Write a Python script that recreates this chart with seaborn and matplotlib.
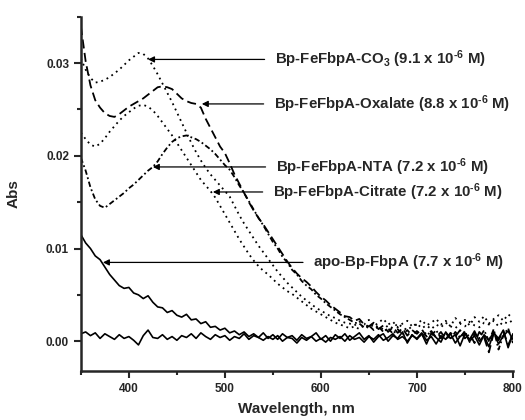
import matplotlib
matplotlib.use('Agg')
import matplotlib.pyplot as plt
import numpy as np
import pandas as pd
import seaborn as sns
from matplotlib.ticker import MultipleLocator

#=====Data (Abs x 1e-3, every 5 nm)=====
wavelength = list(range(350, 801, 5))

co3 = [30.5, 29.3, 28.4, 27.9, 28.0, 28.2, 28.5, 28.9, 29.3, 29.8,
       30.3, 30.7, 31.1, 31.0, 30.5, 29.7, 28.8, 27.8, 26.8, 25.8,
       24.7, 23.6, 22.5, 21.4, 20.4, 19.5, 18.7, 18.0, 17.4, 16.8,
       16.2, 15.6, 14.6, 13.6, 12.7, 11.9, 11.1, 10.3, 9.6, 8.9,
       8.2, 7.5, 6.9, 6.3, 5.8, 5.3, 4.8, 4.4, 4.0, 3.6,
       3.3, 3.0, 2.7, 2.5, 2.2, 2.0, 1.9, 1.7, 2.1, 1.8,
       2.3, 1.6, 2.0, 2.4, 1.8, 2.1, 1.5, 1.9, 2.2, 1.6,
       1.8, 2.3, 1.7, 2.0, 2.4, 1.8, 2.2, 1.6, 2.5, 2.0,
       2.3, 1.7, 2.6, 2.1, 2.7, 1.9, 2.4, 2.8, 2.2, 2.9, 2.5]

oxalate = [34.0, 30.2, 27.6, 26.0, 25.2, 24.6, 24.3, 24.2, 24.5, 24.9,
           25.3, 25.6, 25.9, 26.2, 26.6, 27.0, 27.4, 27.5, 27.4, 27.2,
           26.7, 26.2, 25.9, 25.7, 25.6, 25.2, 24.0, 23.0, 22.0, 21.0,
           20.3, 19.2, 18.0, 17.0, 16.0, 15.0, 14.1, 13.3, 12.6, 11.8,
           11.0, 10.2, 9.4, 8.6, 7.9, 7.3, 6.8, 6.4, 5.9, 5.3,
           4.8, 4.4, 3.9, 3.5, 3.1, 2.7, 2.6, 2.2, 2.4, 1.8,
           1.6, 2.0, 1.3, 1.7, 1.0, 1.5, 0.9, 1.4, 0.6, 1.2,
           0.8, 1.3, 0.5, 1.1, 0.4, 1.0, 0.2, 0.9, 0.5, 1.2,
           0.3, 0.8, -0.2, 1.0, 0.4, -1.2, 0.9, 0.1, 1.1, -0.4, 0.7]

nta = [19.8, 18.4, 16.6, 15.3, 14.6, 14.4, 14.8, 15.2, 15.6, 16.0,
       16.5, 16.9, 17.4, 17.9, 18.4, 18.8, 19.4, 20.2, 20.9, 21.5,
       21.9, 22.1, 22.2, 22.0, 21.8, 21.5, 21.1, 20.7, 20.2, 19.6,
       19.0, 18.5, 17.7, 16.8, 16.0, 15.1, 14.2, 13.3, 12.5, 11.6,
       10.7, 10.0, 9.1, 8.5, 7.7, 7.2, 6.5, 6.0, 5.6, 5.0,
       4.6, 4.1, 3.7, 3.3, 2.9, 2.6, 2.3, 2.0, 1.9, 1.5,
       1.7, 1.2, 1.6, 1.0, 1.4, 0.8, 1.3, 0.7, 1.2, 0.6,
       1.1, 0.4, 1.0, 0.6, 1.2, 0.3, 0.9, 0.2, 1.0, 0.4,
       1.1, -0.1, 0.8, 0.3, 1.2, 0.0, 1.3, -0.9, 0.6, 1.4, -0.2]

citrate = [22.5, 21.8, 21.2, 21.0, 21.3, 21.9, 22.6, 23.2, 23.8, 24.3,
           24.7, 25.1, 25.4, 25.5, 25.3, 24.9, 24.3, 23.6, 22.9, 22.2,
           21.4, 20.6, 19.8, 19.0, 18.2, 17.4, 16.8, 16.2, 15.5, 14.6,
           13.7, 12.8, 11.9, 11.0, 10.2, 9.4, 8.7, 8.1, 7.6, 7.2,
           6.7, 6.2, 5.8, 5.4, 5.1, 4.7, 4.3, 3.9, 3.5, 3.2,
           2.9, 2.6, 2.3, 2.0, 1.8, 1.6, 1.4, 1.6, 1.3, 1.7,
           1.4, 1.8, 1.5, 1.3, 1.7, 1.4, 1.9, 1.5, 1.2, 1.6,
           1.9, 1.4, 1.7, 1.3, 1.8, 1.5, 2.0, 1.6, 1.4, 1.9,
           1.6, 2.1, 1.7, 1.5, 2.0, 1.8, 2.2, 1.6, 2.1, 1.9, 2.3]

apo = [11.5, 10.6, 10.0, 9.2, 8.8, 8.0, 7.2, 6.6, 6.0, 5.7,
       5.8, 5.2, 5.0, 4.6, 4.9, 4.2, 3.7, 3.6, 3.1, 3.3,
       2.8, 2.6, 2.9, 2.3, 2.4, 1.9, 2.1, 1.5, 1.6, 1.2,
       1.4, 0.9, 1.1, 0.7, 1.0, 0.5, 0.8, 0.4, 0.9, 0.3,
       0.7, 0.2, 0.8, 0.4, 0.6, 0.1, 0.7, 0.3, 0.5, 0.9,
       0.2, 0.6, 0.0, 0.7, 0.3, 0.8, 0.1, 0.5, 0.9, 0.2,
       0.6, -0.1, 0.5, 0.8, 0.0, 0.6, 0.3, 1.0, -0.2, 0.7,
       0.2, 0.8, -0.3, 0.9, 0.4, -0.1, 1.0, 0.3, 0.7, -0.5,
       0.8, 0.2, 1.1, 0.0, 0.6, -0.6, 0.9, 0.3, 1.2, -0.7, 0.8]

baseline = [0.8, 1.0, 0.6, 0.9, 0.3, 0.8, 0.5, 0.2, 0.7, 0.3,
            0.5, 0.1, -0.4, 0.6, 1.2, 0.4, 0.3, 0.7, 0.2, 0.5,
            0.1, 0.6, 0.4, 0.8, 0.3, 0.9, 0.5, 0.2, 0.7, 0.4,
            0.6, 0.1, 0.5, 0.3, 0.8, 0.2, 0.6, 0.4, 0.1, 0.5,
            0.2, 0.6, 0.0, 0.4, 0.3, -0.2, 0.4, 0.1, 0.5, 0.0,
            0.3, -0.1, 0.4, 0.2, 0.5, 0.0, 0.6, 0.2, 0.4, -0.1,
            0.5, 0.2, 0.7, 0.1, 0.4, 0.8, 0.2, 0.5, 0.0, 0.6,
            0.3, 0.9, 0.1, 0.5, -0.3, 0.6, 0.2, 0.8, -0.2, 0.5,
            0.9, 0.0, 0.6, -0.4, 0.7, 0.1, 1.0, -0.3, 0.6, 1.1, 0.2]

labels = [r'Bp-FeFbpA-CO$_{3}$ (9.1 x 10$^{\text{-6}}$ M)',
          r'Bp-FeFbpA-Oxalate (8.8 x 10$^{\text{-6}}$ M)',
          r'Bp-FeFbpA-NTA (7.2 x 10$^{\text{-6}}$ M)',
          r'Bp-FeFbpA-Citrate (7.2 x 10$^{\text{-6}}$ M)',
          r'apo-Bp-FbpA (7.7 x 10$^{\text{-6}}$ M)']

#=====Style=====
sns.set_style('ticks')
plt.rcParams['font.family'] = ['Liberation Sans', 'DejaVu Sans']
plt.rcParams['font.weight'] = 'bold'
plt.rcParams['mathtext.fontset'] = 'custom'
plt.rcParams['mathtext.rm'] = 'Liberation Sans:bold'
plt.rcParams['mathtext.bf'] = 'Liberation Sans:bold'
plt.rcParams['mathtext.it'] = 'Liberation Sans:bold'

series = {'co3': co3, 'oxalate': oxalate, 'nta': nta,
          'citrate': citrate, 'apo': apo, 'baseline': baseline}
df = pd.DataFrame({'wavelength': wavelength})
for k, v in series.items():
    df[k] = np.array(v) / 1000

styles = {
    'co3': dict(ls=(0, (1, 2.2)), lw=1.3),
    'oxalate': dict(ls=(0, (5, 2.5)), lw=1.3),
    'nta': dict(ls=(0, (3, 1.5, 1, 1.5)), lw=1.3),
    'citrate': dict(ls=(0, (1, 2.2)), lw=1.3),
    'apo': dict(ls='-', lw=1.2),
    'baseline': dict(ls='-', lw=1.2),
}

fig, ax = plt.subplots(figsize=(5.25, 4.2), dpi=100)
fig.subplots_adjust(left=0.154, right=0.977, bottom=0.117, top=0.96)

for k in series:
    sns.lineplot(data=df, x='wavelength', y=k, ax=ax, color='black',
                 linestyle=styles[k]['ls'], linewidth=styles[k]['lw'])

ax.set_xlim(350, 800)
ax.set_ylim(-0.0032, 0.035)
ax.xaxis.set_major_locator(MultipleLocator(100))
ax.xaxis.set_minor_locator(MultipleLocator(50))
ax.yaxis.set_major_locator(MultipleLocator(0.01))
ax.yaxis.set_minor_locator(MultipleLocator(0.005))
ax.yaxis.set_major_formatter(plt.FuncFormatter(lambda v, p: f'{v:.2f}'))
ax.tick_params(which='major', length=5, width=1.5, labelsize=8.5, direction='out')
ax.tick_params(which='minor', length=3, width=1.5, direction='out')
for t in ax.get_xticklabels() + ax.get_yticklabels():
    t.set_fontweight('bold')
sns.despine(ax=ax)
for s in ['left', 'bottom']:
    ax.spines[s].set_linewidth(1.8)

ax.set_xlabel('Wavelength, nm', fontsize=11, fontweight='bold', labelpad=5)
ax.set_ylabel('Abs', fontsize=11, fontweight='bold', labelpad=18)

#=====Annotations=====
arrow_xy = [(420, 0.0304), (476, 0.0256), (425, 0.0188), (487.5, 0.0161), (373, 0.0085)]
text_xy = [(552, 0.0304), (551, 0.0256), (553, 0.0188), (550, 0.0161), (592, 0.0085)]
for lab, axy, txy in zip(labels, arrow_xy, text_xy):
    ax.annotate(lab, xy=axy, xytext=txy, ha='left', va='center',
                fontsize=10.8, fontweight='bold',
                arrowprops=dict(arrowstyle='-|>', color='black', lw=0.9,
                                mutation_scale=9, shrinkA=5, shrinkB=0))

plt.savefig('out.png', dpi=100)
